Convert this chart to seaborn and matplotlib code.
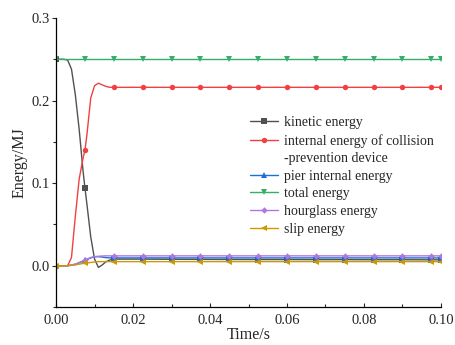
import numpy as np
import seaborn as sns
from matplotlib import pyplot as plt
from matplotlib.lines import Line2D
from matplotlib.ticker import MultipleLocator

# time points (s)
time_s = [0, 0.001, 0.002, 0.003, 0.004, 0.005, 0.006, 0.007, 0.0075, 0.008, 0.009,
          0.010, 0.011, 0.012, 0.013, 0.014, 0.015, 0.0225, 0.03, 0.0375, 0.045,
          0.0525, 0.06, 0.0675, 0.075, 0.0825, 0.09, 0.0975, 0.1]

kinetic = [0.25, 0.25, 0.25, 0.249, 0.238, 0.207, 0.165, 0.115, 0.094, 0.075, 0.035,
           0.008, -0.002, 0.001, 0.005, 0.007, 0.008, 0.008, 0.0078, 0.0077, 0.0076,
           0.0075, 0.0075, 0.0074, 0.0074, 0.0073, 0.0073, 0.0072, 0.0072]
internal = [0, 0, 0, 0, 0.01, 0.06, 0.105, 0.13, 0.14, 0.158, 0.203,
            0.218, 0.221, 0.219, 0.217, 0.216, 0.216, 0.216, 0.216, 0.216, 0.216,
            0.216, 0.216, 0.216, 0.216, 0.216, 0.216, 0.216, 0.216]
pier = [0, 0, 0, 0, 0.0008, 0.0018, 0.0035, 0.0055, 0.0065, 0.0075, 0.0095,
        0.0108, 0.011, 0.0105, 0.0098, 0.0095, 0.0095, 0.0095, 0.0095, 0.0095, 0.0095,
        0.0095, 0.0095, 0.0095, 0.0095, 0.0095, 0.0095, 0.0095, 0.0095]
total = [0.25] * len(time_s)
hourglass = [0, 0, 0, 0, 0.001, 0.002, 0.004, 0.006, 0.007, 0.008, 0.010,
             0.011, 0.0115, 0.0118, 0.012, 0.012, 0.012, 0.012, 0.012, 0.012, 0.012,
             0.012, 0.012, 0.012, 0.012, 0.012, 0.012, 0.012, 0.012]
slip = [0, 0, 0, 0, 0.0005, 0.001, 0.002, 0.0027, 0.003, 0.0033, 0.004,
        0.0045, 0.005, 0.005, 0.005, 0.005, 0.005, 0.005, 0.005, 0.005, 0.005,
        0.005, 0.005, 0.005, 0.005, 0.005, 0.005, 0.005, 0.005]

series = [
    ("kinetic energy", kinetic, "#515151", "s"),
    ("internal energy of collision", internal, "#F14040", "o"),
    ("pier internal energy", pier, "#1A6FDF", "^"),
    ("total energy", total, "#37AD6B", "v"),
    ("hourglass energy", hourglass, "#B177DE", "D"),
    ("slip energy", slip, "#CC9900", "<"),
]

sns.set_style("ticks")
plt.rcParams['font.family'] = ['Liberation Serif', 'DejaVu Serif']

# markers every 0.0075 s plus the end point
mark_idx = [i for i, t in enumerate(time_s)
            if abs(round(t / 0.0075) * 0.0075 - t) < 1e-9 or t == 0.1]

fig = plt.figure(figsize=(4.56, 3.45), dpi=100)
ax = fig.add_axes([0.123, 0.110, 0.844, 0.838])

for name, vals, col, mk in series:
    ms = 3.3 if mk == "D" else 3.9
    sns.lineplot(x=time_s, y=vals, ax=ax, color=col, marker=mk, markersize=ms,
                 markevery=mark_idx, linewidth=1.0, markeredgewidth=0,
                 label=name)

ax.set_xlim(0, 0.1)
ax.set_ylim(-0.05, 0.3)
ax.xaxis.set_major_locator(MultipleLocator(0.02))
ax.xaxis.set_minor_locator(MultipleLocator(0.01))
ax.yaxis.set_major_locator(MultipleLocator(0.1))
ax.yaxis.set_minor_locator(MultipleLocator(0.05))
ax.set_xticklabels([f"{v:.2f}" for v in ax.get_xticks()])
ax.set_yticklabels([f"{v:.1f}" for v in ax.get_yticks()])
ax.tick_params(axis='x', which='both', direction='in', labelsize=10.5, pad=5)
ax.tick_params(axis='y', which='both', direction='out', labelsize=10.5, pad=1.5)
ax.tick_params(which='major', length=3, width=0.8)
ax.tick_params(which='minor', length=2, width=0.8)
for s in ['top', 'right']:
    ax.spines[s].set_visible(False)
for s in ['left', 'bottom']:
    ax.spines[s].set_linewidth(0.9)
    ax.spines[s].set_color('black')

ax.set_xlabel("Time/s", fontsize=11.5, labelpad=0)
ax.set_ylabel("Energy/MJ", fontsize=11.5, labelpad=3)

handles, labels = ax.get_legend_handles_labels()
extra = Line2D([], [], linestyle='none')
handles = handles[:2] + [extra] + handles[2:]
labels = labels[:2] + ["-prevention device"] + labels[2:]
ax.legend(handles, labels, loc='upper left', bbox_to_anchor=(0.505, 0.66),
          frameon=False, fontsize=10, borderpad=0, borderaxespad=0,
          handlelength=2.0, handletextpad=0.45, labelspacing=0.33)

fig.savefig("out.png", dpi=100)
